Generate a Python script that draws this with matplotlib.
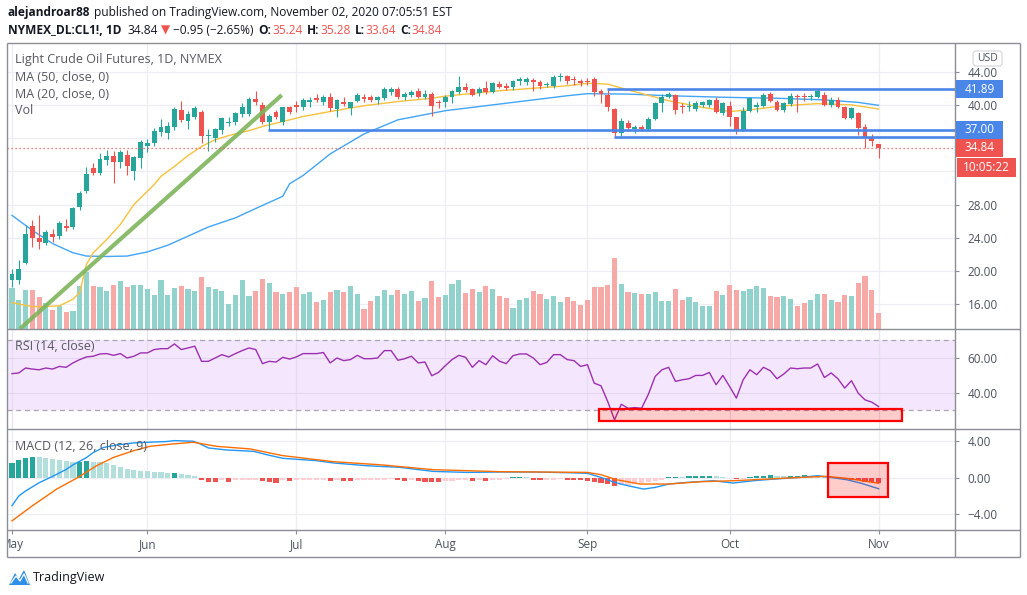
import matplotlib
matplotlib.use("Agg")
import matplotlib.pyplot as plt
import matplotlib.transforms as mtrans
from matplotlib.patches import Rectangle, FancyBboxPatch, Polygon

# ---------------- data ----------------
month_labels = ["May", "Jun", "Jul", "Aug", "Sep", "Oct", "Nov"]
month_index = [0, 20, 42, 64, 85, 106, 128]

opens = [18.87, 18.9, 21.0, 25.4, 24.0, 23.4, 24.4, 24.2, 25.4, 25.3,
         27.7, 29.6, 32.4, 31.8, 33.4, 33.9, 33.1, 34.0, 32.0, 33.6,
         35.1, 35.4, 36.7, 36.6, 37.3, 39.4, 38.1, 38.5, 39.2, 36.2,
         36.0, 37.0, 37.85, 37.9, 38.9, 38.9, 40.7, 40.0, 37.9, 39.1,
         37.9, 39.7, 40.0, 39.7, 40.3, 40.8, 40.4, 40.9, 39.5, 40.4,
         39.6, 40.5, 41.0, 40.95, 40.6, 40.8, 41.5, 41.9, 40.97, 41.2,
         41.7, 40.97, 41.37, 40.4, 40.3, 40.9, 41.5, 42.1, 41.9, 41.4,
         42.0, 41.6, 42.5, 42.3, 42.2, 42.9, 42.7, 43.0, 42.8, 42.4,
         42.3, 43.3, 43.5, 43.0, 42.9, 42.9, 43.1, 41.7, 41.2, 39.5,
         36.6, 37.8, 37.05, 37.3, 37.1, 38.3, 40.2, 41.0, 41.2, 39.8,
         39.7, 39.55, 40.0, 40.0, 40.6, 39.07, 39.9, 38.5, 36.9, 39.27,
         39.8, 39.9, 41.3, 40.4, 39.4, 40.16, 41.1, 41.1, 40.9, 40.9,
         41.2, 40.0, 40.57, 39.76, 38.46, 39.0, 37.33, 35.96, 35.24]
highs = [20.3, 21.3, 25.5, 26.1, 26.7, 24.9, 25.0, 26.0, 26.3, 27.7,
         29.6, 32.5, 33.0, 34.2, 34.6, 34.4, 34.6, 34.6, 33.9, 35.8,
         35.9, 37.2, 38.3, 37.9, 39.8, 40.5, 39.3, 39.9, 39.4, 37.1,
         37.2, 38.5, 38.5, 39.2, 40.2, 40.9, 41.7, 40.3, 38.9, 39.4,
         39.8, 39.9, 40.5, 40.8, 40.9, 41.3, 41.2, 41.4, 40.7, 40.9,
         40.4, 41.4, 41.3, 41.2, 41.1, 42.1, 42.1, 42.2, 41.6, 41.8,
         42.0, 41.8, 41.6, 40.6, 41.2, 41.8, 43.5, 42.6, 42.0, 42.1,
         42.9, 42.8, 42.9, 42.6, 43.0, 43.3, 43.3, 43.2, 43.0, 42.8,
         43.6, 43.8, 43.6, 43.5, 43.1, 43.2, 43.3, 41.9, 41.9, 39.6,
         38.4, 38.2, 37.6, 37.6, 38.5, 40.4, 41.3, 41.6, 41.3, 40.2,
         40.5, 40.5, 40.5, 40.7, 40.9, 40.4, 40.5, 38.6, 39.76, 41.0,
         40.4, 41.4, 41.5, 40.6, 40.4, 41.4, 41.3, 41.4, 41.3, 41.9,
         41.5, 40.9, 40.9, 39.9, 39.75, 39.1, 37.66, 36.52, 35.28]
lows = [18.06, 18.4, 20.8, 22.9, 22.7, 23.1, 23.5, 23.8, 24.8, 25.0,
        27.3, 29.4, 31.5, 31.6, 32.8, 30.6, 32.4, 31.6, 31.0, 32.4,
        34.3, 35.0, 36.2, 35.9, 37.0, 37.9, 37.05, 38.3, 35.4, 34.4,
        35.5, 36.5, 37.4, 37.6, 38.5, 38.7, 40.0, 37.7, 37.0, 38.3,
        37.6, 38.9, 39.1, 39.4, 39.8, 40.3, 40.0, 39.3, 38.5, 39.9,
        38.8, 40.3, 40.3, 40.3, 40.1, 40.6, 41.2, 40.7, 40.6, 40.9,
        40.8, 40.7, 38.7, 39.6, 39.7, 40.2, 41.3, 41.6, 41.1, 41.1,
        41.3, 41.4, 42.0, 41.8, 41.8, 42.4, 42.4, 41.7, 41.9, 42.1,
        42.0, 42.9, 42.5, 42.4, 42.3, 42.4, 41.1, 40.2, 39.3, 36.1,
        36.2, 36.9, 36.6, 36.8, 36.9, 38.2, 39.1, 40.8, 38.9, 39.0,
        39.3, 39.3, 39.7, 39.8, 39.0, 38.8, 37.45, 36.5, 36.8, 39.1,
        39.2, 39.7, 40.4, 39.3, 39.1, 39.9, 39.2, 40.5, 40.6, 40.8,
        39.9, 39.7, 39.6, 38.3, 38.3, 36.4, 34.75, 35.03, 33.64]
closes = [19.67, 20.3, 24.5, 24.0, 23.5, 24.7, 24.1, 25.8, 25.2, 27.6,
          29.4, 31.7, 31.8, 33.5, 33.9, 33.1, 34.3, 32.6, 33.7, 35.5,
          35.4, 36.9, 37.3, 37.4, 39.5, 38.2, 38.9, 39.6, 36.3, 36.3,
          37.1, 38.4, 37.95, 39.0, 39.8, 40.7, 40.3, 37.9, 38.7, 38.5,
          39.7, 39.2, 39.8, 40.6, 40.6, 40.6, 41.0, 39.6, 40.6, 40.1,
          40.3, 41.2, 40.75, 40.6, 40.95, 41.9, 41.9, 41.0, 41.3, 41.6,
          41.0, 41.37, 39.9, 40.2, 41.0, 41.7, 42.1, 41.8, 41.2, 41.9,
          41.5, 42.6, 42.2, 42.0, 42.9, 43.1, 43.1, 42.8, 42.3, 42.5,
          43.4, 43.4, 42.9, 42.95, 42.6, 42.7, 41.5, 41.3, 39.7, 36.6,
          38.06, 37.25, 37.3, 37.05, 38.35, 40.2, 41.0, 41.3, 39.4, 39.7,
          39.8, 40.28, 40.3, 40.6, 39.2, 40.28, 38.6, 37.0, 39.27, 40.8,
          40.0, 41.2, 40.5, 39.4, 40.28, 41.1, 40.9, 40.9, 41.1, 41.7,
          40.0, 40.6, 39.8, 38.46, 39.6, 37.25, 36.04, 35.64, 34.84]
# volume, thousands of contracts
volumes = [400, 280, 380, 380, 310, 250, 180, 220, 160, 170,
           420, 560, 420, 410, 370, 430, 470, 410, 430, 430,
           390, 330, 480, 330, 400, 420, 390, 370, 510, 410,
           390, 370, 240, 330, 480, 320, 370, 490, 450, 360,
           340, 360, 410, 340, 360, 260, 280, 360, 380, 360,
           420, 340, 190, 270, 320, 380, 330, 380, 340, 370,
           270, 300, 470, 310, 330, 440, 480, 350, 390, 360,
           420, 390, 320, 300, 200, 280, 300, 370, 340, 290,
           320, 260, 310, 270, 230, 280, 410, 410, 430, 700,
           440, 360, 350, 340, 340, 360, 270, 270, 390, 280,
           310, 260, 220, 220, 370, 330, 430, 380, 370, 390,
           420, 400, 320, 310, 320, 290, 220, 250, 280, 340,
           340, 280, 260, 330, 320, 450, 520, 380, 150]

ma50_x = [0, 3, 6, 9, 11, 14, 17, 20, 23, 26, 29, 33, 37, 40, 41, 43, 47, 52,
          57, 64, 72, 77, 82, 85, 91, 97, 106, 113, 120, 125, 128]
ma50_y = [26.7, 24.9, 23.3, 22.2, 21.8, 21.75, 21.8, 22.3, 23.1, 24.2, 25.3,
          26.4, 27.9, 29.0, 30.5, 31.5, 34.1, 36.5, 38.2, 39.3, 40.1, 40.6,
          41.1, 41.35, 41.3, 41.1, 40.9, 40.8, 40.6, 40.3, 39.95]
ma20_x = [0, 3, 7, 9, 10, 11, 12, 14, 16, 18, 21, 22, 24, 26, 28, 30, 32, 35,
          37, 40, 43, 47, 52, 57, 62, 64, 72, 82, 85, 88, 91, 97, 102, 106,
          109, 114, 119, 124, 128]
ma20_y = [16.2, 15.7, 15.8, 16.6, 17.4, 20.8, 22.2, 23.8, 25.6, 28.0, 30.4,
          31.4, 32.6, 33.9, 35.0, 35.8, 36.3, 36.9, 37.4, 38.0, 38.6, 39.2,
          39.9, 40.4, 40.8, 41.05, 41.7, 42.3, 42.6, 42.5, 41.8, 40.5, 39.7,
          39.2, 39.4, 39.9, 40.15, 40.0, 39.5]

rsi = [50.9, 51.3, 54.1, 53.5, 53.1, 54.1, 53.5, 55.0, 54.5, 57.0,
       58.9, 60.4, 60.8, 62.1, 62.3, 61.3, 62.3, 59.8, 60.8, 62.7,
       62.7, 64.6, 65.1, 65.1, 67.8, 64.6, 65.5, 66.5, 57.9, 57.9,
       59.8, 61.7, 60.4, 62.3, 64.0, 65.5, 64.6, 56.6, 57.9, 57.5,
       60.2, 59.2, 60.4, 62.3, 62.3, 62.3, 62.9, 57.0, 59.8, 58.3,
       58.9, 61.3, 59.4, 59.4, 59.8, 64.0, 64.0, 58.5, 59.4, 60.8,
       57.0, 57.5, 49.7, 51.6, 55.4, 58.9, 61.3, 60.2, 54.5, 58.3,
       56.0, 61.1, 58.0, 56.6, 61.1, 62.1, 62.1, 59.8, 56.0, 57.3,
       61.7, 61.7, 58.9, 58.3, 55.0, 56.0, 45.5, 44.0, 35.0, 24.6,
       33.5, 31.2, 31.6, 31.2, 39.2, 49.3, 53.1, 54.5, 46.5, 47.4,
       48.0, 49.9, 49.9, 51.6, 44.6, 49.9, 43.6, 37.0, 47.4, 53.1,
       50.3, 54.5, 52.6, 48.0, 50.7, 54.1, 53.7, 54.1, 54.1, 56.4,
       48.7, 51.3, 48.0, 42.7, 46.9, 39.8, 36.0, 34.7, 32.2]

macd_x = [0, 1, 2, 3, 4, 5, 6, 8, 9, 11, 12, 13.5, 15.5, 18, 20, 22.8, 24,
          26.8, 27.8, 29, 31.7, 35.7, 37.6, 40, 45, 47.5, 52.4, 57.3, 62.2,
          67.2, 72, 77, 82, 85, 87, 89, 91, 93.3, 95, 97, 99.7, 103.6, 106.5,
          109.5, 112.5, 116.4, 119, 121, 123.3, 125.3, 128]
macd_v = [-3.05, -2.0, -1.45, -1.0, -0.55, -0.2, 0.15, 0.9, 1.4, 2.2, 2.75,
          3.3, 3.58, 3.8, 3.87, 3.95, 4.05, 3.98, 3.69, 3.25, 3.03, 2.88,
          2.52, 2.12, 1.86, 1.61, 1.31, 1.13, 0.69, 0.58, 0.62, 0.62, 0.55,
          0.48, 0.03, -0.51, -0.88, -1.24, -1.06, -0.69, -0.51, -0.33, -0.58,
          -0.33, -0.15, 0.03, 0.22, 0.03, -0.22, -0.58, -1.2]
signal_x = [0, 3, 6.6, 9.6, 12.5, 15, 18, 20.4, 23.8, 26.8, 30.2, 35.2, 40,
            47.5, 54.8, 62.2, 72, 85, 87, 89.3, 92.8, 97, 101.6, 106.5,
            111.5, 116.4, 120.3, 123.3, 128]
signal_v = [-4.71, -3.07, -1.24, -0.03, 1.31, 2.22, 2.96, 3.43, 3.69, 3.87,
            3.43, 3.14, 2.41, 1.75, 1.39, 0.88, 0.66, 0.58, 0.33, -0.22,
            -0.69, -0.69, -0.44, -0.33, -0.15, 0.03, 0.15, -0.07, -0.6]
hist = [1.64, 1.94, 2.19, 2.26, 2.23, 2.12, 2.0, 1.94, 1.83, 1.72,
        1.75, 1.78, 1.75, 1.72, 1.57, 1.39, 1.2, 0.95, 0.84, 0.77,
        0.68, 0.66, 0.6, 0.55, 0.56, 0.42, 0.3, 0.18, -0.26, -0.44,
        -0.46, -0.28, -0.44, -0.3, -0.29, -0.27, -0.25, -0.4, -0.5, -0.55,
        -0.3, -0.4, -0.3, -0.28, -0.26, -0.25, -0.24, -0.32, -0.3, -0.36,
        -0.4, -0.3, -0.28, -0.26, -0.24, -0.2, -0.18, -0.3, -0.35, -0.3,
        -0.36, -0.42, -0.48, -0.5, -0.4, -0.35, -0.3, -0.26, -0.32, -0.3,
        -0.34, -0.3, -0.25, -0.15, 0.05, 0.06, 0.05, -0.2, -0.25, -0.22,
        -0.2, -0.18, -0.22, -0.25, -0.3, -0.35, -0.5, -0.62, -0.7, -0.9,
        -0.85, -0.75, -0.65, -0.55, -0.45, -0.35, -0.2, 0.1, 0.12, 0.1,
        0.14, 0.16, 0.18, 0.2, 0.15, 0.12, -0.08, -0.15, -0.1, 0.1,
        0.15, 0.22, 0.25, 0.18, 0.15, 0.2, 0.22, 0.25, 0.24, 0.22,
        0.15, 0.1, -0.05, -0.15, -0.2, -0.3, -0.42, -0.5, -0.58]

# drawings
trend_x = [1.18, 39.84]
trend_y = [13.04, 41.18]
hline_price = [37.00, 41.89, 36.15]
hline_start = [37.86, 87.9, 88.9]
hline_label = ["37.00", "41.89", None]
rsi_box_x = [86.75, 131.4]
rsi_box_y = [24.0, 30.9]
macd_box_x = [120.6, 129.4]
macd_box_y = [-2.07, 1.57]

price_ticks = [16, 20, 24, 28, 32, 36, 40, 44]
price_tick_labels = ["16.00", "20.00", "24.00", "28.00", "", "", "40.00", "44.00"]
rsi_ticks = [40, 60]
rsi_tick_labels = ["40.00", "60.00"]
macd_ticks = [-4, 0, 4]
macd_tick_labels = ["\u22124.00", "0.00", "4.00"]
countdown = "10:05:22"
last_price = closes[-1]

# ---------------- style / layout ----------------
W, H, DPI = 1027, 595, 100
GREEN, RED = "#26a69a", "#ef5350"
BLUE_LINE = "#4a86e8"
GRID = "#eceef3"
FRAME = "#8b8e95"
TXT = "#4c525e"
DARK = "#131722"
LEG = "#55585f"

plt.rcParams["font.family"] = ["Open Sans", "DejaVu Sans"]
fig = plt.figure(figsize=(W / DPI, H / DPI), dpi=DPI)
fig.patch.set_facecolor("white")


def px_axes(l, t, r, b, **kw):
    ax = fig.add_axes([l / W, 1 - b / H, (r - l) / W, (b - t) / H], **kw)
    for s in ax.spines.values():
        s.set_visible(False)
    return ax


PL, PR = 7, 955
X0, STEP = 12, 6.77
XLIM = ((PL - X0) / STEP, (PR - X0) / STEP)
PTOP, PBOT, RBOT, MBOT, TBOT, FR = 43, 328.5, 429, 530, 557, 1020

ax_vol = px_axes(PL, PTOP, PR, PBOT)
ax_p = px_axes(PL, PTOP, PR, PBOT, facecolor="none")
ax_rsi = px_axes(PL, PBOT, PR, RBOT)
ax_macd = px_axes(PL, RBOT, PR, MBOT)
ax_time = px_axes(PL, MBOT, PR, TBOT)

idx = list(range(len(closes)))
up = [c >= o for o, c in zip(opens, closes)]
ccol = [GREEN if u else RED for u in up]

# volume + price grid (drawn beneath)
bt = mtrans.blended_transform_factory(ax_vol.transAxes, ax_p.transData)
for t in price_ticks:
    ax_vol.plot([0, 1], [t, t], transform=bt, color=GRID, lw=0.9, zorder=0)
for m in month_index:
    ax_vol.axvline(m, color=GRID, lw=0.9, zorder=0)
ax_vol.bar(idx, volumes, width=0.76, color=["#92d2cc" if u else "#f6a9a7" for u in up],
           linewidth=0, zorder=1)
ax_vol.set_xlim(*XLIM)
ax_vol.set_ylim(0, 2850)
ax_vol.set_xticks([]); ax_vol.set_yticks([])

# price
ax_p.plot(ma50_x, ma50_y, color="#42a5f5", lw=1.0, zorder=2)
ax_p.plot(ma20_x, ma20_y, color="#f7c13c", lw=1.0, zorder=2)
ax_p.vlines(idx, lows, highs, colors=ccol, lw=0.8, zorder=3)
ax_p.bar(idx, [max(abs(c - o), 0.12) for o, c in zip(opens, closes)],
         bottom=[min(o, c) for o, c in zip(opens, closes)], width=0.72,
         color=ccol, linewidth=0, zorder=4)
ax_p.plot(trend_x, trend_y, color="#7db55b", lw=3.0, alpha=0.9,
          solid_capstyle="butt", zorder=5)
ax_p.hlines(hline_price, hline_start, XLIM[1], color=BLUE_LINE, lw=1.9, zorder=6)
ax_p.axhline(last_price, color=RED, lw=0.9, ls=(0, (1, 2.2)), zorder=6)
ax_p.set_xlim(*XLIM)
ax_p.set_ylim(13.08, 47.45)

# RSI
ax_rsi.axhspan(30, 70, color="#f4e7fd", lw=0, zorder=0)
for t in rsi_ticks:
    ax_rsi.axhline(t, color="#dcd3e6", lw=0.8, alpha=0.7, zorder=1)
for m in month_index:
    ax_rsi.axvline(m, color="#e3dceb", lw=0.9, alpha=0.8, zorder=1)
for lv in (70, 30):
    ax_rsi.axhline(lv, color="#aaa3b0", lw=0.9, ls=(0, (4, 3)), zorder=2)
ax_rsi.plot(idx, rsi, color="#9c2fb0", lw=1.0, zorder=3)
ax_rsi.add_patch(Rectangle((rsi_box_x[0], rsi_box_y[0]), rsi_box_x[1] - rsi_box_x[0],
                           rsi_box_y[1] - rsi_box_y[0], facecolor=(1, 0, 0, 0.2),
                           edgecolor="#ff0000", lw=1.6, zorder=5))
ax_rsi.set_xlim(*XLIM)
ax_rsi.set_ylim(19.43, 76.57)

# MACD
hcol = []
prev = None
for h in hist:
    if h >= 0:
        hcol.append("#26a69a" if prev is None or h > prev else "#b2dfdb")
    else:
        hcol.append("#ef5350" if prev is None or h < prev else "#ffcdd2")
    prev = h
for t in macd_ticks:
    ax_macd.axhline(t, color=GRID, lw=0.9, zorder=0)
for m in month_index:
    ax_macd.axvline(m, color=GRID, lw=0.9, zorder=0)
ax_macd.bar(idx, hist, width=0.76, color=hcol, linewidth=0, zorder=2)
ax_macd.plot(macd_x, macd_v, color="#2196f3", lw=1.0, zorder=3)
ax_macd.plot(signal_x, signal_v, color="#ff6d00", lw=1.0, zorder=3)
ax_macd.add_patch(Rectangle((macd_box_x[0], macd_box_y[0]), macd_box_x[1] - macd_box_x[0],
                            macd_box_y[1] - macd_box_y[0], facecolor=(1, 0, 0, 0.2),
                            edgecolor="#ff0000", lw=1.6, zorder=5))
ax_macd.set_xlim(*XLIM)
ax_macd.set_ylim(-5.71, 5.32)

# right axes ticks
for ax, ticks, labels in ((ax_p, price_ticks, price_tick_labels),
                          (ax_rsi, rsi_ticks, rsi_tick_labels),
                          (ax_macd, macd_ticks, macd_tick_labels)):
    ax.yaxis.tick_right()
    ax.set_yticks(ticks)
    ax.set_yticklabels(labels)
    ax.tick_params(axis="y", length=3, width=0.8, color=FRAME, pad=6,
                   labelsize=8.5, labelcolor=TXT)
    ax.tick_params(axis="x", bottom=False, labelbottom=False)
for t, lab in zip(ax_p.yaxis.get_major_ticks(), price_tick_labels):
    if not lab:
        t.tick2line.set_visible(False)

# time axis
ax_time.set_xlim(*XLIM)
ax_time.set_ylim(0, 1)
ax_time.set_yticks([])
ax_time.set_xticks(month_index)
ax_time.tick_params(axis="x", top=True, bottom=False, direction="in", length=3,
                    width=0.8, color=FRAME, labelbottom=False, labeltop=False)
for m, lab in zip(month_index, month_labels):
    ax_time.text(m, 0.45, lab, ha="center", va="center", fontsize=8.5, color=TXT,
                 clip_on=True)

# overlay canvas in pixel coordinates
cv = fig.add_axes([0, 0, 1, 1], facecolor="none")
cv.set_xlim(0, W); cv.set_ylim(H, 0); cv.axis("off")

# frame
for (x1, y1, x2, y2) in ((PL, PTOP, FR, PTOP), (PL, TBOT, FR, TBOT), (PL, PTOP, PL, TBOT),
                         (FR, PTOP, FR, TBOT), (PR, PTOP, PR, TBOT),
                         (PL, PBOT, FR, PBOT), (PL, RBOT, FR, RBOT), (PL, MBOT, FR, MBOT)):
    cv.plot([x1, x2], [y1, y2], color=FRAME, lw=1.0, solid_capstyle="butt")


def py(price):
    return H - ax_p.transData.transform((0, price))[1]


# price labels on the right scale
boxes = [(lab, p, BLUE_LINE) for lab, p in zip(hline_label, hline_price) if lab]
boxes.append(("%.2f" % last_price, last_price, RED))
boxes.sort(key=lambda b: -b[1])
last_bottom = -1e9
for lab, p, col in boxes:
    yc = max(py(p), last_bottom + 9)
    cv.add_patch(Rectangle((PR + 1, yc - 9), 47, 18, facecolor=col, edgecolor="none", zorder=8))
    cv.text(PR + 24.5, yc, lab, ha="center", va="center", color="white", fontsize=8.5, zorder=9)
    last_bottom = yc + 9
cv.add_patch(Rectangle((PR + 2, last_bottom + 1), 59, 19, facecolor=RED, edgecolor="none", zorder=8))
cv.text(PR + 31.5, last_bottom + 10.5, countdown, ha="center", va="center", color="white",
        fontsize=8.5, zorder=9)

# USD badge
cv.add_patch(FancyBboxPatch((973, 51), 29, 15, boxstyle="round,pad=0,rounding_size=3",
                            facecolor="white", edgecolor="#d1d4dc", lw=0.8, zorder=8))
cv.text(987.5, 58.5, "USD", ha="center", va="center", fontsize=7.5, color=TXT, zorder=9)

# legends
for y, s in ((60, "Light Crude Oil Futures, 1D, NYMEX"), (77.5, "MA (50, close, 0)"),
             (94, "MA (20, close, 0)"), (110.5, "Vol"), (346.5, "RSI (14, close)"),
             (446.5, "MACD (12, 26, close, 9)")):
    cv.text(15, y, s, ha="left", va="center", fontsize=9, color=LEG, zorder=9)

# header runs
renderer = fig.canvas.get_renderer()


def runs(x, y, parts, size):
    for s, col, wt, gap in parts:
        t = cv.text(x, y, s, ha="left", va="center", fontsize=size, color=col,
                    fontweight=wt, zorder=9)
        x += t.get_window_extent(renderer=renderer).width + gap


runs(8, 12.5, [("alejandroar88", DARK, "bold", 3.5),
               ("published on TradingView.com, November 02, 2020 07:05:51 EST", DARK, "normal", 0)], 8.6)
runs(8, 30, [("NYMEX_DL:CL1!, 1D", DARK, "bold", 6),
             ("34.84", DARK, "normal", 3), ("\u25bc", RED, "normal", 3),
             ("\u22120.95 (\u22122.65%)", DARK, "normal", 5),
             ("O:", DARK, "bold", 1), ("35.24", RED, "normal", 4),
             ("H:", DARK, "bold", 1), ("35.28", RED, "normal", 4),
             ("L:", DARK, "bold", 1), ("33.64", RED, "normal", 4),
             ("C:", DARK, "bold", 1), ("34.84", RED, "normal", 0)], 8.6)

# TradingView logo
cv.add_patch(Polygon([(9, 585), (15, 573), (19, 579), (24, 570), (30, 585)], closed=True,
                     facecolor="#2f8ee6", edgecolor="none", zorder=9))
cv.plot([11, 16, 20, 24, 28], [583, 576, 581, 574, 583], color="white", lw=0.9, zorder=10)
cv.text(33, 577.5, "TradingView", ha="left", va="center", fontsize=9, color=DARK, zorder=9)

fig.savefig("out.png", dpi=DPI, facecolor="white")
